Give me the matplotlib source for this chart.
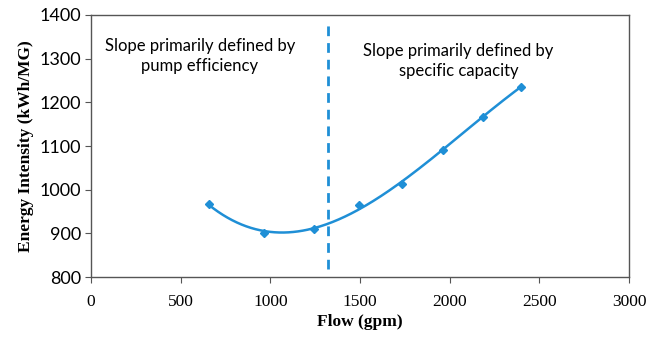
import numpy as np
import matplotlib
matplotlib.use("Agg")
import matplotlib.pyplot as plt

# data
flow = [655, 963, 1242, 1494, 1735, 1964, 2183, 2395]
intensity = [968, 900, 911, 966, 1014, 1091, 1166, 1236]
divider_flow = 1320
x_ticks = [0, 500, 1000, 1500, 2000, 2500, 3000]
y_ticks = [800, 900, 1000, 1100, 1200, 1300, 1400]

blue = "#1f8fd6"

fig = plt.figure(figsize=(6.56, 3.38), dpi=100)
ax = fig.add_axes([0.139, 0.180, 0.820, 0.776])

# polynomial trendline like the spreadsheet one
coef = np.polyfit(flow, intensity, 3)
xs = np.linspace(min(flow), max(flow), 200)
ax.plot(xs, np.polyval(coef, xs), color=blue, lw=1.8)
ax.plot(flow, intensity, linestyle="none", marker="D", ms=4, color=blue)

ax.axvline(divider_flow, ymin=0.03, ymax=0.97, color=blue, lw=2, ls=(0, (3.5, 2.5)))

ax.text(607, 1306, "Slope primarily defined by\npump efficiency", ha="center",
        va="center", fontsize=12, family="Lato", linespacing=1.3)
ax.text(2049, 1294, "Slope primarily defined by\nspecific capacity", ha="center",
        va="center", fontsize=12, family="Lato", linespacing=1.3)

ax.set_xlim(0, 3000)
ax.set_ylim(800, 1400)
ax.set_xticks(x_ticks)
ax.set_yticks(y_ticks)
for lab in ax.get_xticklabels():
    lab.set_family("Liberation Serif")
    lab.set_fontsize(12.5)
for lab in ax.get_yticklabels():
    lab.set_family("Lato")
    lab.set_fontsize(13)
ax.tick_params(direction="out", length=4, color="#555555")
ax.tick_params(axis="x", pad=8)

ax.set_xlabel("Flow (gpm)", family="Liberation Serif", fontweight="bold", fontsize=12.5, labelpad=3)
ax.set_ylabel("Energy Intensity (kWh/MG)", family="Liberation Serif", fontweight="bold", fontsize=12.5)

for s in ax.spines.values():
    s.set_color("#555555")
    s.set_linewidth(1)

fig.savefig("out.png", dpi=100)
